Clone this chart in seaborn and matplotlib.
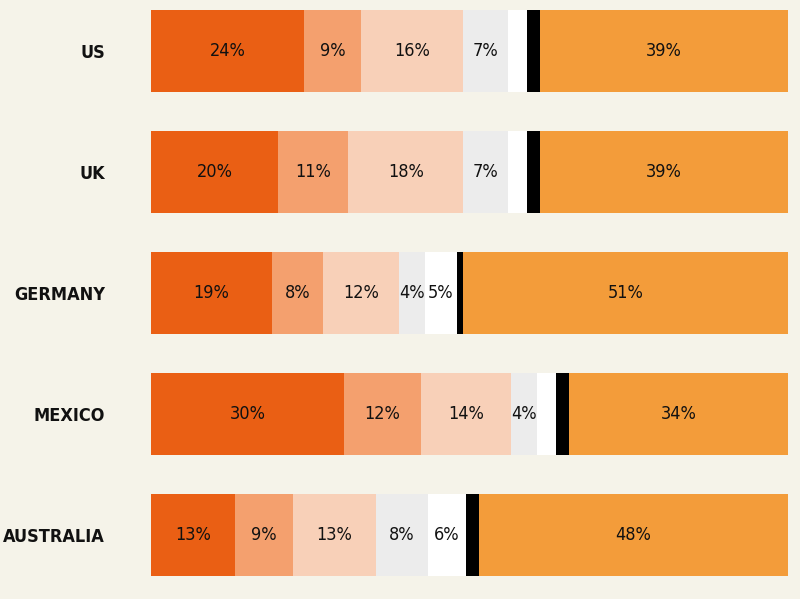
import matplotlib
matplotlib.use("Agg")
import matplotlib.pyplot as plt
import seaborn as sns
import numpy as np
import pandas as pd

countries = ["US", "UK", "GERMANY", "MEXICO", "AUSTRALIA"]
seg1 = [24, 20, 19, 30, 13]
seg2 = [9, 11, 8, 12, 9]
seg3 = [16, 18, 12, 14, 13]
seg4 = [7, 7, 4, 4, 8]
seg5 = [3, 3, 5, 3, 6]
seg6 = [2, 2, 1, 2, 2]
seg7 = [39, 39, 51, 34, 48]
segments = [seg1, seg2, seg3, seg4, seg5, seg6, seg7]
colors = ["#ea5f14", "#f4a06e", "#f8d0b8", "#ececec", "#ffffff", "#000000", "#f39c3a"]
show_label = [True, True, True, True, False, False, True]

bg = "#f5f3e9"
font = "DejaVu Sans"

sns.set_theme(style="white")
fig = plt.figure(figsize=(8, 5.99), dpi=100, facecolor=bg)
ax = fig.add_axes([151 / 800, 0, 637 / 800, 1])
ax.set_facecolor(bg)

vals = np.array(segments, dtype=float)
cum = np.cumsum(vals, axis=0)
df = pd.DataFrame({"country": countries})
# stretch each bar so it spans the full width, as in the original
cum = cum / cum[-1] * 100
for k in range(len(segments) - 1, -1, -1):
    df["v"] = cum[k]
    sns.barplot(data=df, y="country", x="v", orient="h", color=colors[k],
                saturation=1, width=82 / 121, ax=ax, linewidth=0)

for i in range(len(countries)):
    start = 0
    for k in range(len(segments)):
        v = vals[k, i]
        end = cum[k, i]
        lab = show_label[k] or v >= 5
        if lab and colors[k] != "#000000":
            ax.text((start + end) / 2, i, f"{int(v)}%", ha="center", va="center",
                    fontsize=13, family=font, stretch="condensed", color="#111111")
        start = end

ax.set_xlim(0, 100)
ax.set_ylim(548 / 121, -51 / 121)
ax.set_xlabel("")
ax.set_ylabel("")
ax.set_xticks([])
ax.tick_params(axis="y", length=0, pad=33)
for t in ax.get_yticklabels():
    t.set_fontfamily(font)
    t.set_fontstretch("condensed")
    t.set_fontweight("bold")
    t.set_fontsize(13)
    t.set_color("#111111")
sns.despine(ax=ax, left=True, bottom=True)

fig.savefig("out.png", dpi=100, facecolor=bg)
